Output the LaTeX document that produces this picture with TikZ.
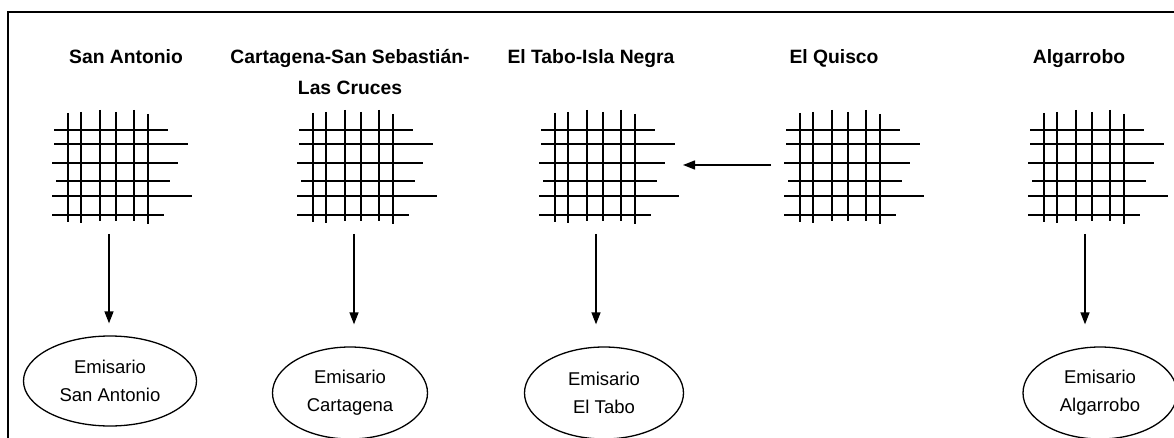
\documentclass[tikz,border=0pt]{standalone}
\usepackage{fontspec}
\setmainfont{Liberation Sans}
\usetikzlibrary{arrows.meta,shapes.geometric}

\begin{document}
\begin{tikzpicture}[x=1pt, y=-1pt,
    titulo/.style={
        font=\fontsize{19.3}{31}\selectfont\bfseries,
        align=center,
        inner sep=0pt
    },
    emisario/.style={
        draw,
        ellipse,
        line width=1.3pt,
        inner sep=0pt,
        align=center,
        font=\fontsize{18.5}{28}\selectfont
    },
    malla/.style={
        line width=2.5pt
    },
    flecha/.style={
        line width=1.4pt,
        -{Triangle[length=12pt,width=9pt]}
    }
]

%------------------------------------------------
% Marco
%------------------------------------------------
\useasboundingbox (0,0) rectangle (1174,438);
\draw[line width=2.4pt] (8,460) -- (8,12) -- (1190,12);

%------------------------------------------------
% Comunas (base de la ultima linea)
%------------------------------------------------
\foreach \i/\xc/\yb/\nombre in {1/126/64/San Antonio,
    2/350/95/{Cartagena-San Sebastián-\\Las Cruces},
    3/591/64/El Tabo-Isla Negra,
    4/834/64/El Quisco,
    5/1079/64/Algarrobo} {
    \node[titulo, anchor=base] (tit\i) at (\xc,\yb) {\nombre};
}

%------------------------------------------------
% Mallas urbanas
%------------------------------------------------
\foreach \i/\xo in {1/52,2/297,3/539,4/784,5/1028} {

    % calles verticales
    \foreach \xv/\ya/\yb in {16/113/222,29/112/223,48/110/221,
                             64/112/221,82/110/221,96/114/224} {
        \draw[malla] (\xo+\xv,\ya) -- (\xo+\xv,\yb);
    }

    % calles horizontales
    \foreach \yh/\xa/\xb in {130/2/116,144/2/136,163/0/126,
                             181/4/118,196/0/140,215/0/112} {
        \draw[malla] (\xo+\xa,\yh) -- (\xo+\xb,\yh);
    }

    \coordinate (red\i) at (\xo+57,234);
}

%------------------------------------------------
% Emisarios
%------------------------------------------------
\node[emisario, minimum width=173pt, minimum height=90pt] (em1) at (110,381)
    {Emisario\\San Antonio};
\node[emisario, minimum width=155pt, minimum height=92pt] (em2) at (350,393)
    {Emisario\\Cartagena};
\node[emisario, minimum width=159pt, minimum height=92pt] (em3) at (604,393)
    {Emisario\\El Tabo};
\node[emisario, minimum width=154pt, minimum height=92pt] (em5) at (1100,393)
    {Emisario\\Algarrobo};

% descargas
\foreach \i/\corte in {1/12,2/22,3/22,5/22} {
    \draw[flecha, shorten >=\corte pt] (red\i) -- (red\i |- em\i.north);
}

% El Quisco descarga por El Tabo
\coordinate (quisco) at (771,165);
\coordinate (tabo) at (683,165);
\draw[flecha] (quisco) -- (tabo);

\end{tikzpicture}
\end{document}
